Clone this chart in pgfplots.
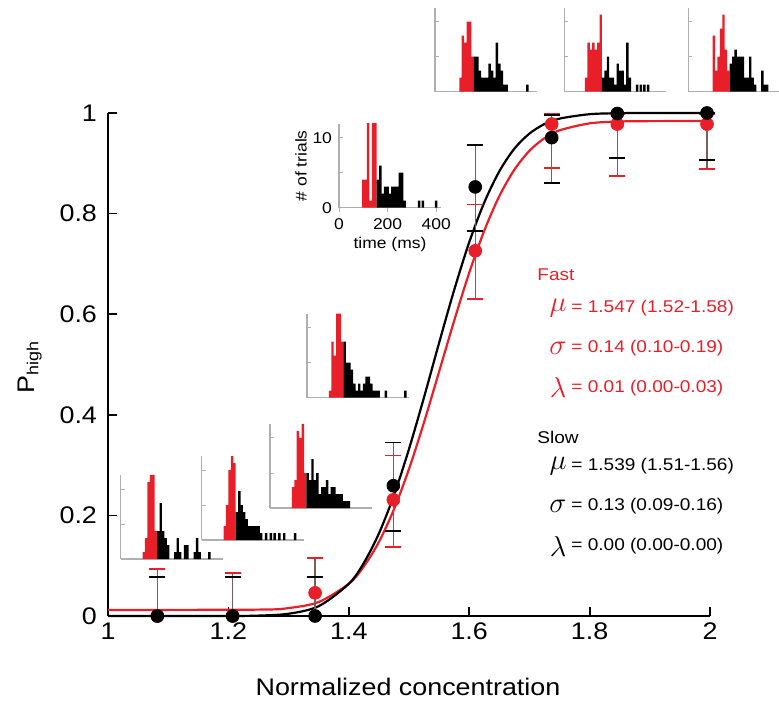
\documentclass[border=0pt]{standalone}
\usepackage{fontspec}
\setmainfont{Liberation Sans}[FakeStretch=1.12]
\usepackage{pgfplots}
\pgfplotsset{compat=1.18}
\definecolor{myred}{RGB}{232,30,40}
\definecolor{ebar}{RGB}{125,95,90}
\definecolor{igray}{RGB}{175,175,175}

\pgfplotsset{
  insetstyle/.style={
    anchor=south west, width=51pt, height=42pt, scale only axis,
    xmin=0, xmax=420, ymin=0, ymax=12,
    axis x line*=bottom, axis y line*=left,
    axis line style={-, igray, line width=0.6pt},
    tick align=inside, major tick length=2pt,
    tick style={igray, line width=0.5pt},
    xtick=\empty, ytick={5,10}, yticklabels={},
    ybar, bar width=10, bar shift=0pt,
    tick label style={font=\fontsize{7.8}{8}\selectfont},
    label style={font=\fontsize{7.8}{8}\selectfont},
  }
}
\newcommand{\inset}[5][]{%
  \begin{axis}[insetstyle, at={(#2pt,#3pt)}, #1]
    \addplot[fill=myred, draw=none, bar shift=0pt] coordinates {#4};
    \addplot[fill=black, draw=none, bar shift=0pt] coordinates {#5};
  \end{axis}}

\begin{document}
\begin{tikzpicture}
\useasboundingbox (0,0) rectangle (389.5pt,350.5pt);

\begin{axis}[
  at={(54pt,42.5pt)}, anchor=south west,
  width=301pt, height=251.5pt, scale only axis,
  xmin=1, xmax=2, ymin=0, ymax=1,
  axis x line*=bottom, axis y line*=left,
  axis line style={-, line width=0.9pt},
  tick align=inside, major tick length=4.5pt,
  tick style={black, line width=0.9pt},
  xtick={1,1.2,1.4,1.6,1.8,2}, xticklabels={1,1.2,1.4,1.6,1.8,2},
  ytick={0,0.2,0.4,0.6,0.8,1}, yticklabels={0,0.2,0.4,0.6,0.8,1},
  tick label style={font=\fontsize{12}{14}\selectfont},
  yticklabel style={xshift=-2pt},
  clip=false,
]
% fitted curves
\addplot[myred, line width=1.1pt, smooth, no markers] coordinates {
(1.00,0.012)(1.25,0.0127)(1.30,0.0158)(1.35,0.0278)(1.40,0.0641)(1.425,0.0985)
(1.45,0.1473)(1.475,0.212)(1.50,0.2923)(1.525,0.3853)(1.55,0.4858)(1.575,0.587)
(1.60,0.6823)(1.625,0.766)(1.65,0.8347)(1.675,0.8872)(1.70,0.9248)(1.725,0.9499)
(1.75,0.9655)(1.80,0.9794)(1.85,0.9831)(1.90,0.9838)(2.00,0.984)};
\addplot[black, line width=1.1pt, smooth, no markers] coordinates {
(1.00,0)(1.20,0.0001)(1.25,0.0008)(1.30,0.0045)(1.35,0.0195)(1.40,0.064)(1.425,0.1056)
(1.45,0.164)(1.475,0.24)(1.50,0.332)(1.525,0.435)(1.55,0.543)(1.575,0.648)
(1.60,0.743)(1.625,0.822)(1.65,0.884)(1.675,0.929)(1.70,0.959)(1.725,0.978)
(1.75,0.9888)(1.80,0.9976)(1.85,0.9996)(1.90,1.0)(2.00,1.0)};
% data with error bars
\addplot[only marks, mark=*, mark size=3.2pt, color=myred,
  error bars/.cd, y dir=both, y explicit, error mark=|,
  error bar style={ebar, line width=0.7pt},
  error mark options={myred, line width=0.9pt, mark size=4pt}]
coordinates {
(1.082,0) += (0,0.093) -= (0,0)
(1.207,0) += (0,0.085) -= (0,0)
(1.344,0.046) += (0,0.07) -= (0,0.046)
(1.474,0.231) += (0,0.088) -= (0,0.094)
(1.610,0.726) += (0,0.092) -= (0,0.096)
(1.737,0.978) += (0,0.02) -= (0,0.087)
(1.846,0.978) += (0,0.02) -= (0,0.103)
(1.995,0.978) += (0,0.02) -= (0,0.09)};
\addplot[only marks, mark=*, mark size=3.2pt, color=black,
  error bars/.cd, y dir=both, y explicit, error mark=|,
  error bar style={ebar, line width=0.7pt},
  error mark options={black, line width=0.9pt, mark size=4pt}]
coordinates {
(1.082,0) += (0,0.078) -= (0,0)
(1.207,0) += (0,0.078) -= (0,0)
(1.344,0) += (0,0.078) -= (0,0)
(1.474,0.259) += (0,0.086) -= (0,0.09)
(1.610,0.853) += (0,0.083) -= (0,0.088)
(1.737,0.951) += (0,0.045) -= (0,0.09)
(1.846,0.999) += (0,0) -= (0,0.089)
(1.995,1.0) += (0,0) -= (0,0.093)};
\end{axis}

% histogram insets
\inset{60.35}{71}{(95,1)(105,3)(115,11)(125,12)(135,12)(145,4)}
{(155,4)(165,8)(175,4)(185,3)(195,2)(225,1)(235,3)(245,1)(265,2)(275,2)(305,1)(315,3)(325,1)(365,1)}
\inset{100.85}{80.5}{(95,2)(105,5)(115,10)(125,12)(135,11)}
{(145,4)(155,7)(165,5)(175,4)(185,3)(195,2)(205,2)(215,2)(225,2)(235,2)(245,1)(265,1)(285,1)(300,1)(320,1)(340,1)(385,1)}
\inset{135}{96.5}{(95,3)(105,4)(115,11)(125,10)(135,12)(145,5)}
{(155,5)(165,4)(175,7)(185,4)(195,5)(205,2)(215,3)(225,3)(235,4)(245,2)(255,3)(265,3)(275,2)(285,2)(295,2)(305,1)(315,1)(325,1)}
\inset{153.5}{151.65}{(95,1)(105,8)(115,6)(125,12)(135,12)(145,8)}
{(155,8)(165,5)(175,5)(185,4)(195,2)(205,1)(215,2)(225,1)(235,2)(245,3)(255,3)(265,2)(275,1)(285,1)(295,1)(325,1)(405,1)}
\inset[xtick={0,200,400}, xticklabels={0,200,400}, ytick={0,5,10}, yticklabels={0,,10},
  xlabel={time (ms)}, ylabel={\# of trials},
  xlabel style={yshift=3pt}, ylabel style={yshift=-4pt}]
{169.5}{246.65}{(100,4)(110,4)(120,13)(130,1)(140,13)(150,13)}
{(160,4)(170,6)(180,2)(190,3)(200,3)(210,2)(220,3)(230,3)(240,3)(250,5)(260,5)(270,1)(330,1)(345,1)(400,1)}
\inset{217.5}{304.65}{(105,2)(115,8)(125,7)(135,10)(145,10)(155,5)}
{(165,5)(175,5)(185,3)(195,2)(205,2)(215,2)(225,4)(235,3)(245,2)(255,7)(265,4)(275,3)(285,1)(295,1)(380,1)}
\inset{282.15}{304.65}{(90,2)(100,7)(110,6)(120,7)(130,6)(140,7)(150,11)}
{(160,2)(170,3)(180,5)(190,2)(200,2)(210,1)(220,4)(230,3)(240,3)(250,1)(260,7)(270,2)(300,1)(315,1)(330,1)(345,1)}
\inset{344.15}{304.65}{(105,8)(115,3)(125,5)(135,9)(145,11)(155,6)(165,3)}
{(175,4)(185,5)(195,6)(205,5)(215,5)(225,5)(235,2)(245,2)(255,5)(265,2)(275,1)(305,3)(315,1)(325,1)}

% axis labels
\node[rotate=90, font=\fontsize{12}{14}\selectfont] at (15pt,167pt) {P\textsubscript{high}};
\node[font=\fontsize{12}{14}\selectfont] at (204pt,7pt) {Normalized concentration};

% parameter annotations
\begin{scope}[every node/.style={font=\fontsize{8.5}{10}\selectfont, inner sep=0pt}]
\node[anchor=west, myred] at (268.5pt,213pt) {Fast};
\node[myred, font=\fontsize{15}{15}\selectfont] at (279pt,196.5pt) {$\mu$};
\node[anchor=west, myred] at (285.5pt,196.5pt) {= 1.547 (1.52-1.58)};
\node[myred, font=\fontsize{15}{15}\selectfont] at (279pt,176.5pt) {$\sigma$};
\node[anchor=west, myred] at (285.5pt,176.5pt) {= 0.14 (0.10-0.19)};
\node[myred, font=\fontsize{15}{15}\selectfont] at (279pt,156.5pt) {$\lambda$};
\node[anchor=west, myred] at (285.5pt,156.5pt) {= 0.01 (0.00-0.03)};
\node[anchor=west] at (268.5pt,132pt) {Slow};
\node[font=\fontsize{15}{15}\selectfont] at (279pt,117.5pt) {$\mu$};
\node[anchor=west] at (285.5pt,117.5pt) {= 1.539 (1.51-1.56)};
\node[font=\fontsize{15}{15}\selectfont] at (279pt,97.5pt) {$\sigma$};
\node[anchor=west] at (285.5pt,97.5pt) {= 0.13 (0.09-0.16)};
\node[font=\fontsize{15}{15}\selectfont] at (279pt,77.5pt) {$\lambda$};
\node[anchor=west] at (285.5pt,77.5pt) {= 0.00 (0.00-0.00)};
\end{scope}
\end{tikzpicture}
\end{document}
